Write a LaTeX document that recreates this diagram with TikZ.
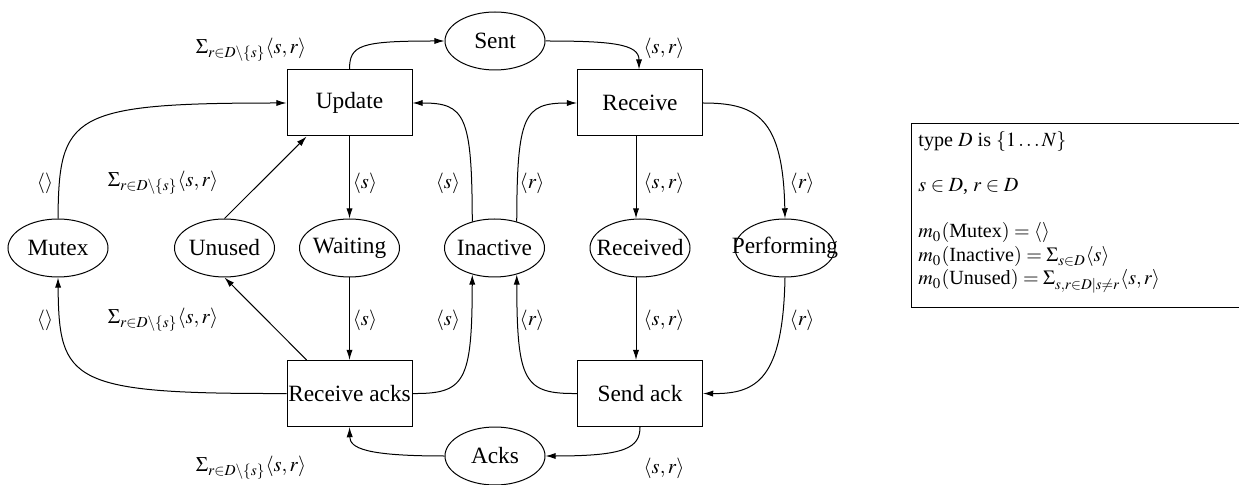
\documentclass[tikz,border=0pt]{standalone}
\usepackage{mathptmx}
\usepackage[no-math]{fontspec}
\setmainfont{Liberation Serif}
\usetikzlibrary{shapes.geometric,arrows.meta,calc}
\newcommand{\nodefont}{\fontsize{10.5}{12}\selectfont}
\newcommand{\labfont}{\fontsize{9.3}{11}\selectfont}
\newcommand{\declfont}{\fontsize{9.05}{11}\selectfont}
\begin{document}
\begin{tikzpicture}[x=0.45pt,y=-0.45pt,
  trans/.style={draw, rectangle, minimum width=56.25pt, minimum height=29.7pt, inner sep=0pt, line width=0.45pt, font=\nodefont},
  place/.style={draw, ellipse, minimum width=45pt, minimum height=26.1pt, inner sep=0pt, line width=0.45pt,
     label={[font=\nodefont, inner sep=0pt]center:#1}},
  arc/.style={-{Latex[length=4.6pt,width=2.8pt]}, line width=0.45pt},
  lab/.style={font=\labfont, inner sep=0pt},
  decl/.style={font=\declfont, inner sep=0pt, anchor=base west}]
\useasboundingbox (0,0) rectangle (1239,485);

% transitions
\node[trans] (update) at (349.5,103) {Update};
\node[trans] (receive) at (640,103) {Receive};
\node[trans] (racks) at (349.5,393.5) {Receive acks};
\node[trans] (sendack) at (640,393.5) {Send ack};

% places
\node[place=Sent] (sent) at (495,41) {};
\node[place=Acks] (acks) at (495,456) {};
\node[place=Mutex] (mutex) at (58,248) {};
\node[place=Unused] (unused) at (224.5,248) {};
\node[place=Waiting] (waiting) at (349.5,248) {};
\node[place=Inactive] (inactive) at (494.5,248) {};
\node[place=Received] (received) at (640,248) {};
\node[place=Performing] (performing) at (785,248) {};

% arcs, upper half
\draw[arc] (mutex.north) .. controls (59,115) and (70,103) .. (update.west);
\draw[arc] (unused.north) -- (update.-142);
\draw[arc] (update.south) -- (waiting.north);
\draw[arc] (update.north) .. controls (349.5,45) and (360,41) .. (sent.west);
\draw[arc] (sent.east) .. controls (612,41) and (639,44) .. ($(receive.north)+(-1,0)$);
\draw[arc] (inactive.130) .. controls (472,115) and (465,103) .. (update.east);
\draw[arc] (inactive.50) .. controls (517,115) and (524,103) .. (receive.west);
\draw[arc] ($(receive.south)+(-4,0)$) -- ($(received.north)+(-4,0)$);
\draw[arc] (receive.east) .. controls (757,103) and (783,118) .. (performing.north);

% arcs, lower half
\draw[arc] (waiting.south) -- (racks.north);
\draw[arc] (racks.west) .. controls (70,394) and (59,382) .. (mutex.south);
\draw[arc] (racks.142) -- (unused.south);
\draw[arc] (racks.east) .. controls (465,394) and (472,382) .. (inactive.-130);
\draw[arc] (sendack.west) .. controls (524,394) and (517,382) .. (inactive.-50);
\draw[arc] ($(received.south)+(-4,0)$) -- ($(sendack.north)+(-4,0)$);
\draw[arc] (performing.south) .. controls (783,379) and (757,394) .. (sendack.east);
\draw[arc] (sendack.south) .. controls (640,448) and (625,456) .. (acks.east);
\draw[arc] (acks.west) .. controls (365,456) and (350,448) .. (racks.south);

% arc labels
\node[lab] (l1) at (45,183) {$\langle\rangle$};
\node[lab] (l2) at (163,183) {$\Sigma_{r\in D\setminus\{s\}}\langle s,r\rangle$};
\node[lab] (l3) at (365,183) {$\langle s\rangle$};
\node[lab] (l4) at (251,50) {$\Sigma_{r\in D\setminus\{s\}}\langle s,r\rangle$};
\node[lab] (l5) at (664,48) {$\langle s,r\rangle$};
\node[lab] (l6) at (448,183) {$\langle s\rangle$};
\node[lab] (l7) at (532,183) {$\langle r\rangle$};
\node[lab] (l8) at (664,183) {$\langle s,r\rangle$};
\node[lab] (l9) at (802,183) {$\langle r\rangle$};
\node[lab] (l10) at (45,320) {$\langle\rangle$};
\node[lab] (l11) at (163,320) {$\Sigma_{r\in D\setminus\{s\}}\langle s,r\rangle$};
\node[lab] (l12) at (365,320) {$\langle s\rangle$};
\node[lab] (l13) at (448,320) {$\langle s\rangle$};
\node[lab] (l14) at (532,320) {$\langle r\rangle$};
\node[lab] (l15) at (664,320) {$\langle s,r\rangle$};
\node[lab] (l16) at (802,320) {$\langle r\rangle$};
\node[lab] (l17) at (251,468) {$\Sigma_{r\in D\setminus\{s\}}\langle s,r\rangle$};
\node[lab] (l18) at (664,468) {$\langle s,r\rangle$};

% declarations
\node[draw, rectangle, line width=0.45pt, minimum width=147.4pt, minimum height=82.8pt, inner sep=0pt, anchor=north west] (declbox) at (911,123) {};
\node[decl] (d1) at (918,147) {type $D$ is $\{1\ldots N\}$};
\node[decl] (d2) at (918,192) {$s\in D$, $r\in D$};
\node[decl] (d3) at (918,238) {$m_0(\mbox{Mutex})=\langle\rangle$};
\node[decl] (d4) at (918,262) {$m_0(\mbox{Inactive})=\Sigma_{s\in D}\langle s\rangle$};
\node[decl] (d5) at (918,285) {$m_0(\mbox{Unused})=\Sigma_{s,r\in D|s\neq r}\langle s,r\rangle$};
\end{tikzpicture}
\end{document}
